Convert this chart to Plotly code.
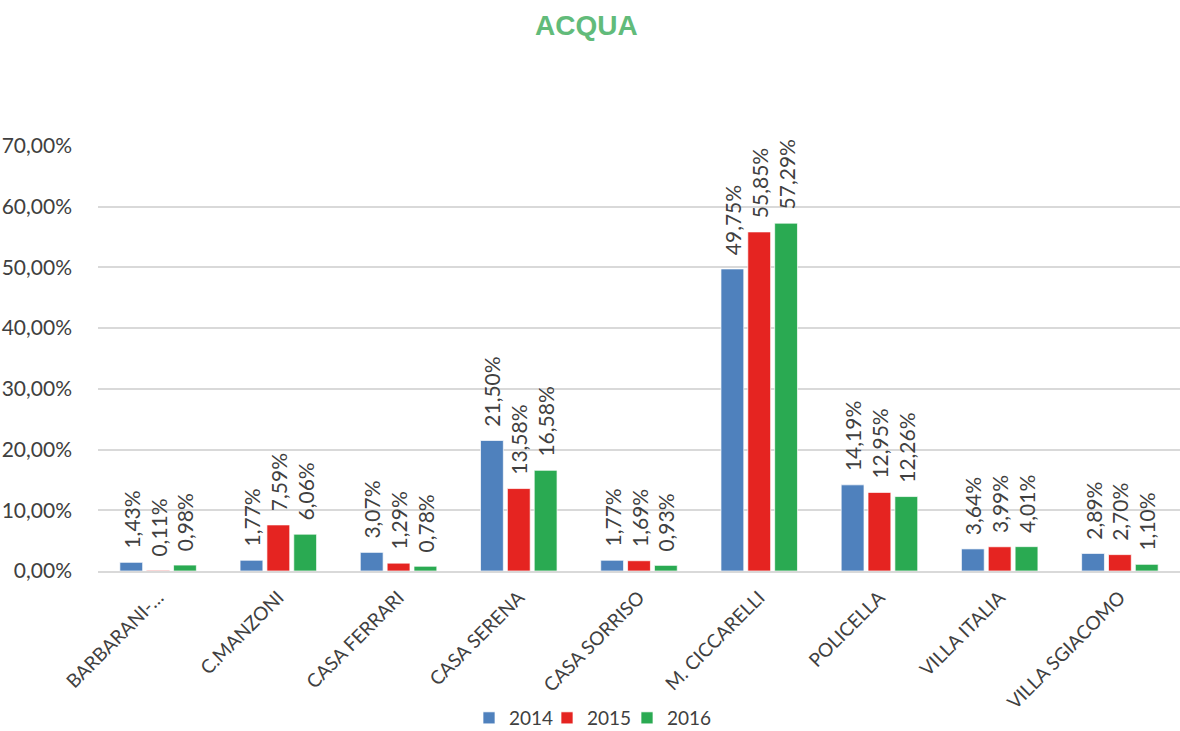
import plotly.graph_objects as go

categories = ["BARBARANI-…", "C.MANZONI", "CASA FERRARI", "CASA SERENA", "CASA SORRISO",
              "M. CICCARELLI", "POLICELLA", "VILLA ITALIA", "VILLA SGIACOMO"]
values_2014 = [0.0143, 0.0177, 0.0307, 0.2150, 0.0177, 0.4975, 0.1419, 0.0364, 0.0289]
values_2015 = [0.0011, 0.0759, 0.0129, 0.1358, 0.0169, 0.5585, 0.1295, 0.0399, 0.0270]
values_2016 = [0.0098, 0.0606, 0.0078, 0.1658, 0.0093, 0.5729, 0.1226, 0.0401, 0.0110]
series_names = ["2014", "2015", "2016"]
colors = ["#4F81BD", "#E52421", "#2AAA52"]

FONT = "Lato"
TXT = "#404040"
W, H = 1180, 731

legend_ids = ["legend", "legend2", "legend3"]
legend_left_px = [469, 547, 627]

fig = go.Figure()
for name, vals, col, lid in zip(series_names, [values_2014, values_2015, values_2016], colors, legend_ids):
    fig.add_trace(go.Bar(
        x=categories, y=vals, name=name, legend=lid,
        marker=dict(color=col, line=dict(color="rgba(255,255,255,0.7)", width=1)),
        texttemplate="  %{y:.2%}", textposition="outside", textangle=-90,
        textfont=dict(family=FONT, size=21, color=TXT),
        constraintext="none", cliponaxis=False,
    ))

legend_common = dict(orientation="h", xref="container", xanchor="left",
                     yref="container", yanchor="middle", y=1 - 718 / H,
                     font=dict(family=FONT, size=19, color=TXT), itemwidth=30,
                     bgcolor="rgba(0,0,0,0)")

fig.update_layout(
    width=W, height=H,
    separators=",.",
    paper_bgcolor="white", plot_bgcolor="white",
    margin=dict(l=98, r=0, t=146, b=160, autoexpand=False),
    barmode="group", bargap=0.33, bargroupgap=0.15,
    title=dict(text="<b>ACQUA</b>", x=0.497, xref="container", xanchor="center",
               y=1 - 25 / H, yref="container", yanchor="middle",
               font=dict(family="Liberation Sans", size=28, color="#62BB7A")),
    showlegend=True,
)
for lid, lx in zip(legend_ids, legend_left_px):
    fig.update_layout({lid: dict(legend_common, x=lx / W)})

fig.update_yaxes(range=[0, 0.70], tickformat=".2%", dtick=0.10, automargin=False,
                 showgrid=True, gridcolor="#D9D9D9", gridwidth=1.5,
                 zeroline=False, ticks="", ticklabelstandoff=25,
                 tickfont=dict(family=FONT, size=21, color=TXT))
fig.update_xaxes(tickangle=-45, ticks="", showline=True, linecolor="#D9D9D9", linewidth=2,
                 automargin=False, ticklabelstandoff=6,
                 tickfont=dict(family=FONT, size=19, color=TXT))

fig.write_html("out.html", config={"displayModeBar": False},
               post_script="document.body.style.margin='0';document.body.style.overflow='hidden';")
